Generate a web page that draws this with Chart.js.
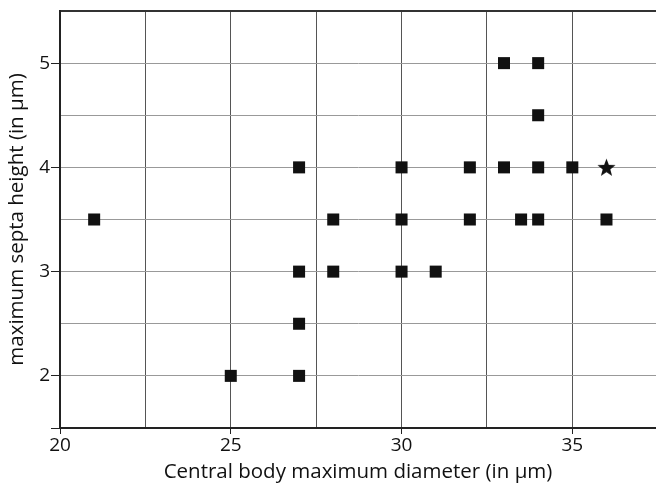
<!DOCTYPE html>
<html><head><meta charset="utf-8">
<script src="https://cdn.jsdelivr.net/npm/chart.js@4/dist/chart.umd.min.js"></script>
<style>html,body{margin:0;padding:0;background:#fff}#wrap{width:656px;height:484px}</style>
</head><body><div id="wrap"><canvas id="c" width="656" height="484"></canvas></div>
<script>
const diameters = [21, 25, 27, 27, 27, 27, 28, 28, 30, 30, 30, 31, 32, 32, 33, 33, 33.5, 34, 34, 34, 34, 35, 36];
const heights   = [3.5, 2, 4, 3, 2.5, 2, 3.5, 3, 4, 3.5, 3, 3, 4, 3.5, 5, 4, 3.5, 5, 4.5, 4, 3.5, 4, 3.5];
const starDiameters = [36];
const starHeights = [4];
const xTicks = [20, 22.5, 25, 27.5, 30, 32.5, 35];
const yTicks = [1.5, 2, 2.5, 3, 3.5, 4, 4.5, 5, 5.5];
const xLabels = [20, 25, 30, 35];
const yLabels = [2, 3, 4, 5];

function starCanvas(size){
  const c = document.createElement('canvas'); c.width = size; c.height = size;
  const g = c.getContext('2d'); const cx = size/2, cy = size/2 + size*0.04;
  const R = size/2, r = R*0.42;
  g.beginPath();
  for(let i=0;i<10;i++){
    const a = -Math.PI/2 + i*Math.PI/5; const rr = i%2===0?R:r;
    g.lineTo(cx+rr*Math.cos(a), cy+rr*Math.sin(a));
  }
  g.closePath(); g.fillStyle='#111'; g.fill();
  return c;
}

const font = "'Open Sans', 'Liberation Sans', sans-serif";
new Chart(document.getElementById('c'), {
  type: 'scatter',
  data: { datasets: [
    { data: diameters.map((x,i)=>({x, y: heights[i]})), pointStyle:'rect', pointRadius:8.5, pointHoverRadius:8.5, backgroundColor:'#111', borderColor:'#111', borderWidth:0 },
    { data: starDiameters.map((x,i)=>({x, y: starHeights[i]})), pointStyle: starCanvas(19), pointRadius:10 }
  ]},
  options: {
    responsive:false, animation:false,
    layout:{ autoPadding:false, padding:{ top:11, right:0, left:0, bottom:0 } },
    plugins:{ legend:{display:false}, tooltip:{enabled:false} },
    scales:{
      x:{ type:'linear', min:20, max:37.45,
        afterBuildTicks: s => { s.ticks = xTicks.map(v=>({value:v})); },
        afterFit: s => { s.height = 56; s.paddingRight = 0; s.paddingLeft = 0; },
        border:{ color:'#222', width:2 },
        grid:{ color: '#555', lineWidth:1, tickLength:6,
          tickColor: ctx => (ctx.tick && xLabels.includes(ctx.tick.value)) ? '#222' : 'rgba(0,0,0,0)' },
        ticks:{ color:'#111', font:{family:font, size:19}, padding:0, maxRotation:0, autoSkip:false,
          callback: v => xLabels.includes(v) ? String(v) : '' },
        title:{ display:true, text:'Central body maximum diameter (in µm)', color:'#111', font:{family:font, size:20.5}, padding:{top:0,bottom:0} }
      },
      y:{ type:'linear', min:1.5, max:5.5,
        afterBuildTicks: s => { s.ticks = yTicks.map(v=>({value:v})); },
        afterFit: s => { s.width = 60; s.paddingTop = 0; s.paddingBottom = 0; },
        border:{ color:'#222', width:2 },
        grid:{ color: ctx => (ctx.tick && ctx.tick.value===5.5) ? '#333' : '#999',
          lineWidth: ctx => (ctx.tick && ctx.tick.value===5.5) ? 2 : 1, tickLength:9,
          tickColor: ctx => (ctx.tick && (yLabels.includes(ctx.tick.value) || ctx.tick.value===1.5)) ? '#222' : 'rgba(0,0,0,0)' },
        ticks:{ color:'#111', font:{family:font, size:19}, padding:1, autoSkip:false,
          callback: v => yLabels.includes(v) ? String(v) : '' },
        title:{ display:true, text:'maximum septa height (in µm)', color:'#111', font:{family:font, size:20.5}, padding:{top:5,bottom:0} }
      }
    }
  }
});
</script></body></html>
